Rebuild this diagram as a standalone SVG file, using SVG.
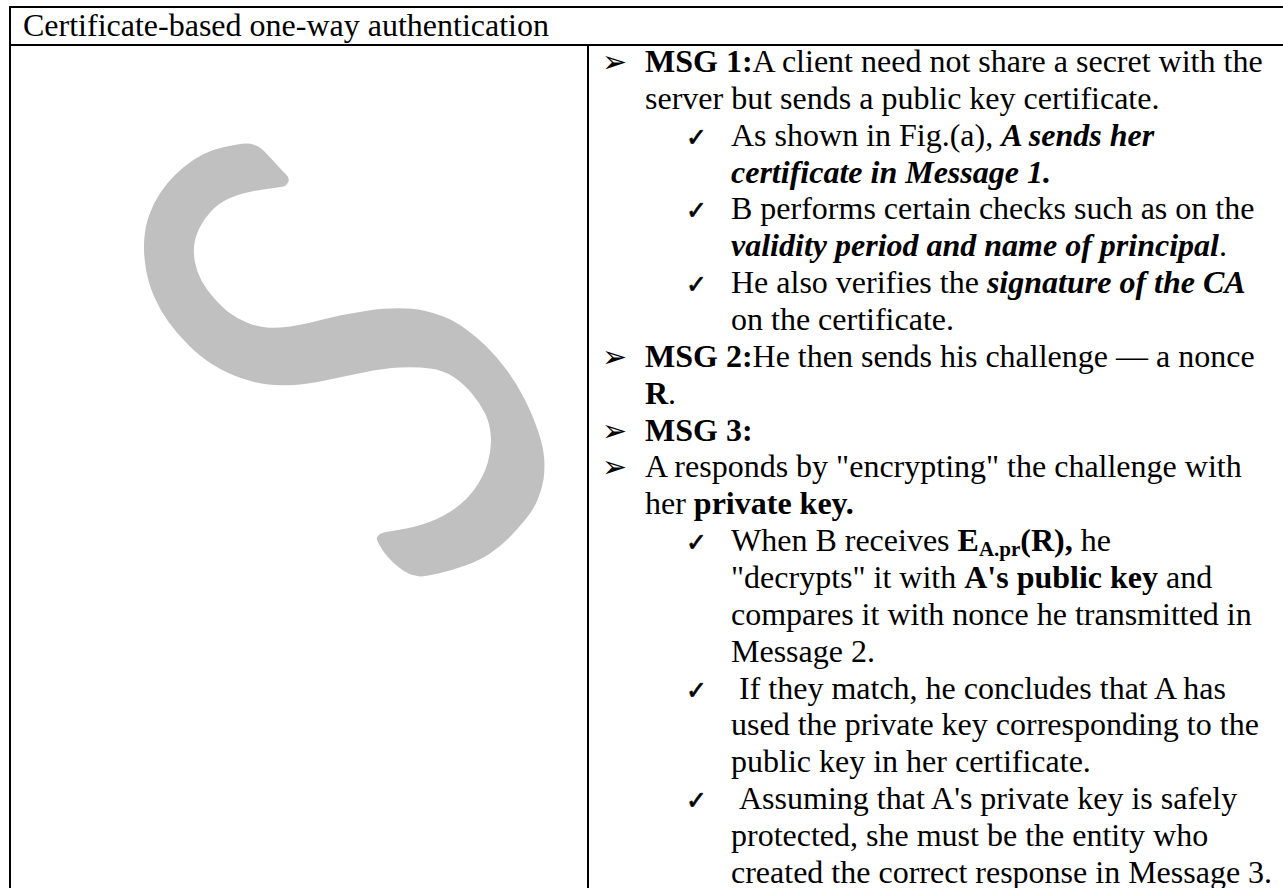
<svg xmlns="http://www.w3.org/2000/svg" width="1283" height="888" viewBox="0 0 1283 888">
  <style>
    .rule { stroke: #000; stroke-width: 2; fill: none; }
    .txt { font-family: "Liberation Serif", "Times New Roman", serif; font-size: 32px; fill: #000; }
    .b { font-weight: bold; }
    .bi { font-weight: bold; font-style: italic; }
    .sub { font-size: 21px; font-weight: bold; }
    .arrow { font-family: "DejaVu Sans", sans-serif; font-size: 30px; fill: #000; }
    .tick { font-family: "DejaVu Sans", sans-serif; font-size: 25px; fill: #000; stroke: #000; stroke-width: 0.7; }
  </style>

  <rect width="1283" height="888" fill="#fff"/>

  <!-- table frame -->
  <g id="table">
    <line class="rule" x1="10" y1="7" x2="1283" y2="7"/>
    <line class="rule" x1="10" y1="45" x2="1283" y2="45"/>
    <line class="rule" x1="10" y1="6" x2="10" y2="888"/>
    <line class="rule" x1="588" y1="45" x2="588" y2="888"/>
  </g>

  <g id="header">
    <text class="txt" x="23" y="36">Certificate-based one-way authentication</text>
  </g>

  <!-- grey S mark in the left cell -->
  <g id="mark">
    <path fill="#c0c0c0" d="M253.3,144.4
      Q248.3,142.7 235.8,144.7 Q223.3,146.7 213.3,150 Q203.3,153.3 193.3,160 Q183.3,166.7 175,175
      Q166.7,183.3 160,193.3 Q153.3,203.3 149.2,215 Q145,226.7 144.2,240 Q143.3,253.3 145.8,268.3
      Q148.3,283.3 154.2,296.7 Q160,310 168.4,321.7 Q176.7,333.3 188.4,345 Q200,356.7 213.4,365
      Q226.7,373.3 241.7,378.3 Q256.7,383.3 268.4,384.5 Q280,385.7 293.4,384.9 Q306.7,384 325,380.4
      Q343.3,376.7 363.3,372.5 Q383.3,368.3 400,367.5 Q416.7,366.7 430,368.4 Q443.3,370 453.3,376.7
      Q463.3,383.3 471.7,393.3 Q480,403.3 485,413.3 Q490,423.3 490.9,436.7 Q491.7,450 487.5,463.4
      Q483.3,476.7 475,488.4 Q466.7,500 455,508.4 Q443.3,516.7 430,521.7 Q416.7,526.7 405,528.7
      Q393.3,530.7 387.5,531.7 Q381.7,532.7 379.2,534.7 Q376.7,536.7 376.7,538.4 Q376.7,540 380,545.9
      Q383.3,551.7 388.3,557.5 Q393.3,563.3 400,568.3 Q406.7,573.3 411.7,574.7 Q416.7,576 420,576.4
      Q423.3,576.7 438.3,573.4 Q453.3,570 466.7,565 Q480,560 490,553.4 Q500,546.7 508.4,538.4
      Q516.7,530 525,520 Q533.3,510 537.5,500 Q541.7,490 543.4,480 Q545,470 544.2,458.4
      Q543.3,446.7 538.3,431.7 Q533.3,416.7 525,400 Q516.7,383.3 506.7,370 Q496.7,356.7 486.7,346.7
      Q476.7,336.7 465,328.4 Q453.3,320 443.3,316.4 Q433.3,312.7 423.3,310.5 Q413.3,308.3 398.3,308.3
      Q383.3,308.3 371.7,310 Q360,311.7 346.7,314.2 Q333.3,316.7 316.7,320.9 Q300,325 288.4,326.7
      Q276.7,328.3 266.7,327.5 Q256.7,326.7 246.7,322.5 Q236.7,318.3 230,313.3 Q223.3,308.3 215,299.2
      Q206.7,290 201.7,280.9 Q196.7,271.7 195,262.5 Q193.3,253.3 194.2,245 Q195,236.7 199.2,228.4
      Q203.3,220 210,212.5 Q216.7,205 225,200.5 Q233.3,196 245,193 Q256.7,190 270,188.4
      Q283.3,186.7 285,185.9 Q286.7,185 288.4,181.7 Q290,178.3 285.9,174.2 Q281.7,170 273.4,160.9
      Q265,151.7 261.7,148.9 Q258.3,146 253.3,144.4 Z"/>
  </g>

  <!-- explanatory list in the right cell -->
  <g id="notes">
    <text class="arrow" x="602" y="72">➢</text>
    <text class="txt" x="645" y="72"><tspan class="b">MSG 1:</tspan>A client need not share a secret with the</text>
    <text class="txt" x="645" y="108.9">server but sends a public key certificate.</text>

    <text class="tick" x="686" y="145.7">✓</text>
    <text class="txt" x="731" y="145.7">As shown in Fig.(a), <tspan class="bi">A sends her</tspan></text>
    <text class="txt bi" x="731" y="182.6">certificate in Message 1.</text>

    <text class="tick" x="686" y="219.4">✓</text>
    <text class="txt" x="731" y="219.4">B performs certain checks such as on the</text>
    <text class="txt" x="731" y="256.3"><tspan class="bi">validity period and name of principal</tspan>.</text>

    <text class="tick" x="686" y="293.1">✓</text>
    <text class="txt" x="731" y="293.1">He also verifies the <tspan class="bi">signature of the CA</tspan></text>
    <text class="txt" x="731" y="330">on the certificate.</text>

    <text class="arrow" x="602" y="366.8">➢</text>
    <text class="txt" x="645" y="366.8"><tspan class="b">MSG 2:</tspan>He then sends his challenge — a nonce</text>
    <text class="txt" x="645" y="403.7"><tspan class="b">R</tspan>.</text>

    <text class="arrow" x="602" y="440.5">➢</text>
    <text class="txt b" x="645" y="440.5">MSG 3:</text>

    <text class="arrow" x="602" y="477.4">➢</text>
    <text class="txt" x="645" y="477.4">A responds by "encrypting" the challenge with</text>
    <text class="txt" x="645" y="514.2">her <tspan class="b">private key.</tspan></text>

    <text class="tick" x="686" y="551.1">✓</text>
    <text class="txt" x="731" y="551.1">When B receives <tspan class="b">E</tspan><tspan class="sub" dy="5">A.pr</tspan><tspan class="b" dy="-5">(R),</tspan> he</text>
    <text class="txt" x="731" y="587.9">"decrypts" it with <tspan class="b">A's public key</tspan> and</text>
    <text class="txt" x="731" y="624.8">compares it with nonce he transmitted in</text>
    <text class="txt" x="731" y="661.6">Message 2.</text>

    <text class="tick" x="686" y="698.5">✓</text>
    <text class="txt" x="739" y="698.5">If they match, he concludes that A has</text>
    <text class="txt" x="731" y="735.3">used the private key corresponding to the</text>
    <text class="txt" x="731" y="772.2">public key in her certificate.</text>

    <text class="tick" x="686" y="809">✓</text>
    <text class="txt" x="739" y="809">Assuming that A's private key is safely</text>
    <text class="txt" x="731" y="845.9">protected, she must be the entity who</text>
    <text class="txt" x="731" y="882.7">created the correct response in Message 3.</text>
  </g>
</svg>
